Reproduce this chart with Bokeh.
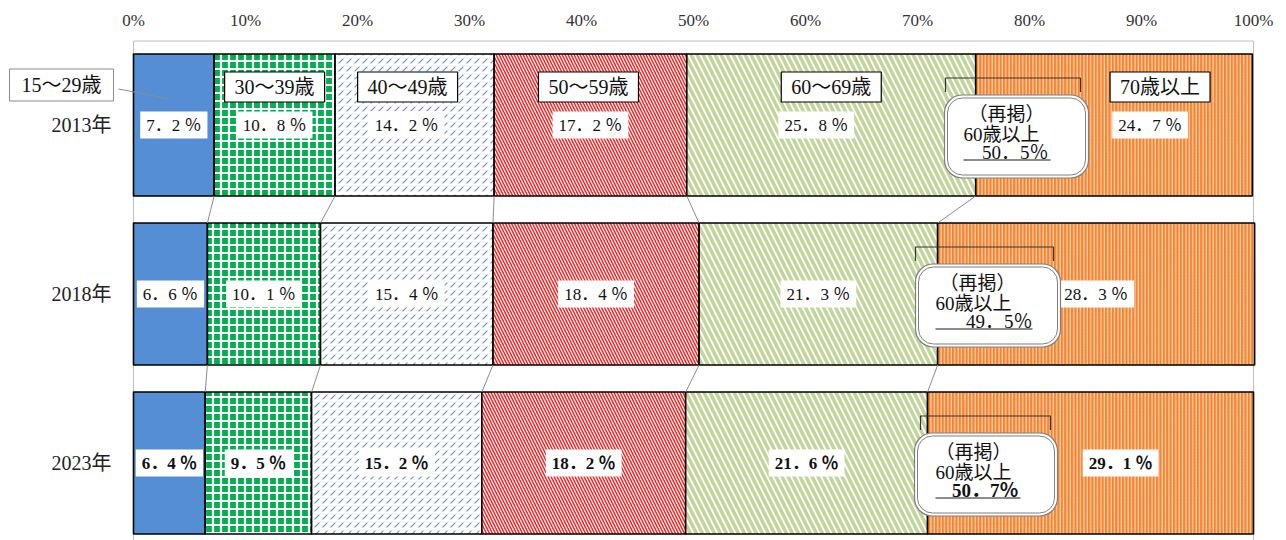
from bokeh.plotting import figure
from bokeh.models import Range1d, ColumnDataSource
from bokeh.core.properties import value
from bokeh.embed import file_html
from bokeh.resources import INLINE

# ---------------- data ----------------
years = ["2013年", "2018年", "2023年"]
groups = ["15～29歳", "30～39歳", "40～49歳", "50～59歳", "60～69歳", "70歳以上"]
v15_29 = [7.2, 6.6, 6.4]
v30_39 = [10.8, 10.1, 9.5]
v40_49 = [14.2, 15.4, 15.2]
v50_59 = [17.2, 18.4, 18.2]
v60_69 = [25.8, 21.3, 21.6]
v70_up = [24.7, 28.3, 29.1]
v60_up = [50.5, 49.5, 50.7]
tick_values = [0, 10, 20, 30, 40, 50, 60, 70, 80, 90, 100]
tick_labels = ["0%", "10%", "20%", "30%", "40%", "50%", "60%", "70%", "80%", "90%", "100%"]

series = [v15_29, v30_39, v40_49, v50_59, v60_69, v70_up]

# ---------------- layout helpers ----------------
W, H = 1286, 540
FRAME_L = 133          # pixel of 0 %
PX_PER_PCT = 11.2
TOP_PX = 40            # pixel of the plot-area top
ROW_PX = 169.0
X_MIN = -FRAME_L / PX_PER_PCT
X_MAX = (W - FRAME_L) / PX_PER_PCT
Y_AREA_TOP = -0.5
Y_MIN = Y_AREA_TOP - TOP_PX / ROW_PX
Y_BOT = Y_AREA_TOP + (H - TOP_PX) / ROW_PX

def dx(px):
    return (px - FRAME_L) / PX_PER_PCT

def dy_off(row, off_px):
    return row + off_px / ROW_PX

FONT = "Liberation Serif, Noto Sans CJK JP"
SERIF = value(FONT)

p = figure(width=W, height=H, output_backend="svg", toolbar_location=None,
           x_range=Range1d(X_MIN, X_MAX), y_range=Range1d(Y_BOT, Y_MIN),
           x_axis_location=None, y_axis_location=None,
           min_border_left=0, min_border_right=0, min_border_top=0, min_border_bottom=0)
p.background_fill_color = "white"
p.border_fill_color = "white"
p.outline_line_color = None
p.xgrid.visible = False
p.ygrid.visible = False

# percentage scale along the top
p.text(x=tick_values, y=[dy_off(-0.5, -20)] * len(tick_values), text=tick_labels,
       text_font=value("Liberation Serif"), text_font_size="17px", text_color="#333333",
       text_align="center", text_baseline="middle")

# plot-area frame (light gray)
ytop_line = Y_AREA_TOP + 0.5 / ROW_PX
p.segment(x0=[0, 0, 100], y0=[ytop_line] * 3, x1=[100, 0, 100], y1=[ytop_line, Y_BOT, Y_BOT],
          line_color="#C0C0C0", line_width=1)

# ---------------- bars ----------------
styles = [
    dict(fill_color="#558ED5"),
    dict(fill_color="#00B050", hatch_pattern="cross", hatch_color="white", hatch_scale=8, hatch_weight=2.2),
    dict(fill_color="white", hatch_pattern="right_diagonal_dash", hatch_color="#7894C8", hatch_scale=8, hatch_weight=1.2),
    dict(fill_color="#FF1A1A", hatch_pattern="left_diagonal_line", hatch_color="white", hatch_scale=6, hatch_weight=1.3),
    dict(fill_color="white", hatch_pattern="left_diagonal_line", hatch_color="#C2D69B", hatch_scale=12, hatch_weight=3.5),
    dict(fill_color="#F5842E", hatch_pattern="vertical_line", hatch_color="white", hatch_scale=3.4, hatch_weight=0.8),
]

BAR_H = 0.84
ys = [0, 1, 2]
cum = [0.0, 0.0, 0.0]
bounds = []
for vals, st in zip(series, styles):
    left = list(cum)
    right = [c + v for c, v in zip(cum, vals)]
    src = ColumnDataSource(dict(y=ys, left=left, right=right))
    p.hbar(y="y", left="left", right="right", height=BAR_H, source=src,
           line_color="black", line_width=1.6, **st)
    cum = right
    bounds.append(list(right))

# connector (series) lines between rows
x0s, y0s, x1s, y1s = [], [], [], []
for b in bounds[:-1]:
    for r in range(2):
        x0s.append(b[r]); y0s.append(r + BAR_H / 2)
        x1s.append(b[r + 1]); y1s.append(r + 1 - BAR_H / 2)
p.segment(x0=x0s, y0=y0s, x1=x1s, y1=y1s, line_color="#8C8C8C", line_width=1)

# ---------------- year labels ----------------
p.text(x=[dx(111)] * 3, y=ys, text=years, text_font=SERIF, text_font_size="20px",
       text_color="#222222", text_align="right", text_baseline="middle")

# ---------------- value labels ----------------
label_dx_px = {(0, 2): -8, (0, 4): -15, (0, 5): 36, (2, 5): 30}
lx, ly, lt, lfs, loff = [], [], [], [], []
for si, vals in enumerate(series):
    for r in range(3):
        left = bounds[si - 1][r] if si > 0 else 0.0
        lx.append(left + vals[r] / 2)
        ly.append(r)
        lt.append(f"{vals[r]:.1f}".replace(".", "．") + " ％")
        lfs.append("bold" if r == 2 else "normal")
        loff.append(label_dx_px.get((r, si), 0))
lsrc = ColumnDataSource(dict(x=lx, y=ly, text=lt, fs=lfs, off=loff))
p.text(x="x", y="y", text="text", source=lsrc, x_offset="off", text_font=SERIF,
       text_font_size="17px", text_font_style="fs", text_color="#111111",
       text_align="center", text_baseline="middle",
       background_fill_color="white", padding=dict(left=6, right=6, top=4, bottom=4))

# ---------------- legend boxes (in 2013 row) ----------------
legend_off_px = {1: 0, 2: -7, 3: -2, 4: 0, 5: 46}
gx, gy, gt, goff = [], [], [], []
for si in range(1, 6):
    left = bounds[si - 1][0]
    gx.append(left + series[si][0] / 2)
    gy.append(dy_off(0, -38))
    gt.append(groups[si])
    goff.append(legend_off_px[si])
gsrc = ColumnDataSource(dict(x=gx, y=gy, text=gt, off=goff))
p.text(x="x", y="y", text="text", source=gsrc, x_offset="off", text_font=SERIF,
       text_font_size="20px", text_color="#111111", text_align="center", text_baseline="middle",
       background_fill_color="white", border_line_color="black", border_line_width=1.2,
       padding=dict(left=10, right=10, top=4, bottom=4))

# 15～29歳 box outside the bars, with leader line
p.segment(x0=[dx(118)], y0=[dy_off(0, -36)], x1=[v15_29[0] / 2 - 0.3], y1=[dy_off(0, -26)],
          line_color="#8C8C8C", line_width=1)
p.text(x=[dx(61)], y=[dy_off(0, -40)], text=[groups[0]], text_font=SERIF,
       text_font_size="20px", text_color="#111111", text_align="center", text_baseline="middle",
       background_fill_color="white", border_line_color="#8C8C8C", border_line_width=1,
       padding=dict(left=12, right=12, top=5, bottom=5))

# ---------------- callouts (60歳以上) ----------------
box_x = [(944, 1088), (915, 1060), (914, 1057)]
brk_x = [(945, 1080), (915, 1053), (920, 1050)]
l1_x = [1006, 977, 973]
l2_left = [963, 935, 935]
l3_right = [1048, 1032, 1018]
ul_x = [(963, 1050), (935, 1032), (935, 1020)]

for r in range(3):
    bl, br = dx(box_x[r][0]), dx(box_x[r][1])
    bt, bb = dy_off(r, -30), dy_off(r, 53)
    p.quad(left=[bl], right=[br], top=[bt], bottom=[bb], fill_color="white",
           line_color="#7F7F7F", line_width=1.2, border_radius=18)
    p.quad(left=[bl + 3 / PX_PER_PCT], right=[br - 3 / PX_PER_PCT], top=[bt + 3 / ROW_PX],
           bottom=[bb - 3 / ROW_PX], fill_color=None, line_color="#7F7F7F", line_width=1,
           border_radius=15)
    k0, k1 = dx(brk_x[r][0]), dx(brk_x[r][1])
    p.multi_line(xs=[[k0, k0, k1, k1]], ys=[[dy_off(r, -33), dy_off(r, -47), dy_off(r, -47), dy_off(r, -33)]],
                 line_color="#333333", line_width=1.2)
    p.text(x=[dx(l1_x[r])], y=[dy_off(r, -11)], text=["（再掲）"], text_font=SERIF, text_font_size="19px",
           text_color="#111111", text_align="center", text_baseline="middle")
    p.text(x=[dx(l2_left[r])], y=[dy_off(r, 9)], text=["60歳以上"], text_font=SERIF, text_font_size="19px",
           text_color="#111111", text_align="left", text_baseline="middle")
    p.text(x=[dx(l3_right[r])], y=[dy_off(r, 27)], text=[f"{v60_up[r]:.1f}".replace(".", "．") + "％"],
           text_font=SERIF, text_font_size="19px", text_font_style="bold" if r == 2 else "normal",
           text_color="#111111", text_align="right", text_baseline="middle")
    p.segment(x0=[dx(ul_x[r][0])], y0=[dy_off(r, 35)], x1=[dx(ul_x[r][1])], y1=[dy_off(r, 35)],
              line_color="#8C8C8C", line_width=2)

open("out.html", "w").write(file_html(p, INLINE))
